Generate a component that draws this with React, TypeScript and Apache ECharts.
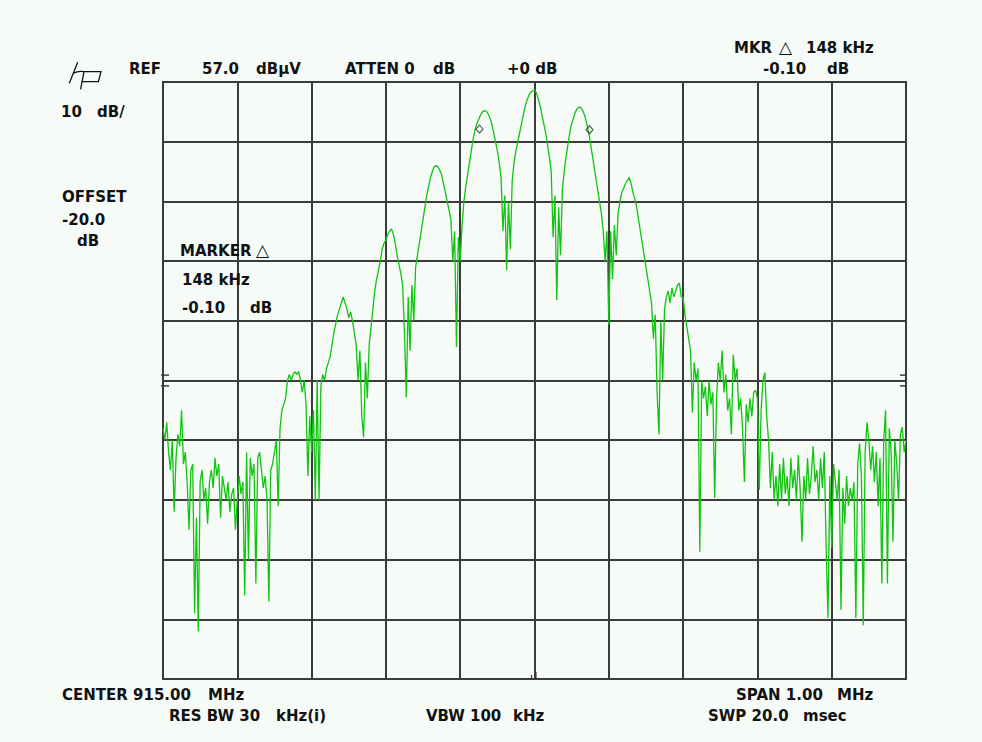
import React, { useEffect, useRef } from "react";
import * as echarts from "echarts";

// Sweep: span 1.00 MHz around 915.00 MHz, 401 trace points, offset in kHz
const FREQ_START = -500;
const FREQ_END = 500;
const FREQ_STEP = 2.5;

// Trace level in dB relative to reference level (REF 57.0 dBµV, 10 dB/div)
const traceDiv0 = [-58, -60, -57, -62, -65, -60, -72, -63, -59, -61, -55, -64, -62, -67, -75, -65, -64, -89, -73, -92,
  -67, -65, -70, -68, -74, -67, -65, -68, -63, -66, -64, -73, -66, -68, -70, -67, -72, -69, -68, -75];
const traceDiv1 = [-70, -66, -69, -67, -86, -62, -80, -63, -66, -64, -84, -63, -62, -65, -68, -66, -70, -87, -65, -64,
  -62, -60, -71, -58, -55, -54, -53, -50, -49, -50, -49, -48.5, -49, -48.5, -50, -52, -50, -54, -66, -56];
const traceDiv2 = [-62, -55, -70, -50, -70, -51, -49, -50, -48, -47, -46, -44, -42, -40.5, -39, -38, -37, -36, -37, -38,
  -39.5, -38.5, -40, -42, -44, -50, -45, -56, -59.5, -47, -53, -44, -41, -38, -35, -33, -31.5, -30, -28, -27];
const traceDiv3 = [-26.5, -25.5, -25, -24.6, -25.5, -27, -29, -30.5, -32, -34, -42, -52.8, -36, -45, -34, -40, -31, -29, -27, -25,
  -23, -21, -19, -17.5, -16, -15, -14.2, -14, -14.2, -14.8, -15.5, -17, -18.5, -20, -21.5, -23, -30, -25, -44.4, -26];
const traceDiv4 = [-30, -24, -20, -17.5, -15.5, -13.5, -11.5, -9.5, -8, -7, -6.2, -5.5, -5, -4.8, -4.9, -5.3, -6, -7, -8.5, -10,
  -11.5, -13.5, -16, -25, -19, -31.5, -20, -28, -16.5, -13.5, -11.5, -10, -8.5, -7, -5.5, -4, -3, -2.2, -1.7, -1.5];
const traceDiv5 = [-1.3, -1.8, -2.8, -4, -5.5, -7, -8.5, -10.5, -12.5, -15, -26, -19, -36.5, -21, -29, -18, -15, -12.5, -10.5, -8.5,
  -7, -6, -5, -4.5, -4.2, -4.3, -4.8, -5.6, -6.8, -8.2, -10, -12, -14, -16, -18, -20, -22, -25, -30, -25];
const traceDiv6 = [-40.7, -25, -33, -24, -29, -22, -20, -18.5, -17.8, -17, -16.5, -16, -17, -18.5, -19.5, -21, -23, -25, -27, -29,
  -31, -33, -35, -37, -43, -39, -52, -59, -40, -50, -38, -36, -35, -37, -34.5, -36, -35, -34, -33.7, -36];
const traceDiv7 = [-36, -39, -41, -43, -45, -55.4, -47, -50, -48, -78.7, -50, -53, -51, -56, -50, -54, -52, -69.7, -53, -47,
  -50, -45, -52, -49, -55, -53, -59, -45.7, -50, -48, -55, -53, -58, -67, -54, -57, -53, -56, -52, -51.6];
const traceDiv8 = [-53, -68.3, -55, -50, -48.7, -56, -60, -68, -62, -70, -66, -71, -64, -70, -63, -69, -66, -71, -63, -68,
  -65, -70, -62.5, -68, -77, -66, -70, -63, -69, -66, -61, -67, -65, -70, -63, -68, -62, -78, -89.8, -66];
const traceDiv9 = [-78, -64, -67, -70, -65, -88.4, -68, -74, -66, -71, -68, -70, -67, -89.8, -64, -60.5, -66, -91, -62, -57,
  -60, -65, -61, -67, -62, -71, -63, -84, -60, -55, -84, -58, -62, -77, -60, -64, -70, -59, -57.8, -62, -60];

const trace = [
  ...traceDiv0, ...traceDiv1, ...traceDiv2, ...traceDiv3, ...traceDiv4,
  ...traceDiv5, ...traceDiv6, ...traceDiv7, ...traceDiv8, ...traceDiv9,
];

// Delta marker pair (148 kHz apart, -0.10 dB)
const markerFreqs = [-74, 74];
const markerLevels = [-7.9, -8.0];

// Display-line ticks on the side edges and centre ticks on the bottom edge
const sideTickLevels = [-49.1, -50.9];
const centreTickFreqs = [-4, 2];

const BG = "#f6fbf8";
const INK = "#121212";
const GRIDC = "#3b3b3b";
const TRACE = "#10c410";

const FONT = "bold 15px 'DejaVu Sans'";
// [text, x, y]
const labels: [string, number, number][] = [
  ["REF", 129, 69],
  ["57.0", 202, 69],
  ["dBµV", 256, 69],
  ["ATTEN 0", 345, 69],
  ["dB", 433, 69],
  ["+0 dB", 507, 69],
  ["MKR", 734, 48],
  ["148 kHz", 806, 48],
  ["-0.10", 763, 69],
  ["dB", 827, 69],
  ["10", 61, 112],
  ["dB/", 97, 112],
  ["OFFSET", 62, 197],
  ["-20.0", 62, 220],
  ["dB", 77, 241],
  ["MARKER", 180, 251],
  ["148 kHz", 182, 280],
  ["-0.10", 182, 308],
  ["dB", 250, 308],
  ["CENTER 915.00", 62, 695],
  ["MHz", 208, 695],
  ["RES BW 30", 169, 716],
  ["kHz(i)", 276, 716],
  ["VBW 100", 426, 716],
  ["kHz", 513, 716],
  ["SPAN 1.00", 736, 695],
  ["MHz", 837, 695],
  ["SWP 20.0", 708, 716],
  ["msec", 803, 716],
];
const triangles: [number, number][] = [
  [779, 47],
  [256, 250],
];

const LOGO_D =
  "M77.7 62.3 L69.3 83.3 M73.6 73.2 Q78 70.6 84 71.7 L80.6 89.3 M84 71.7 L101 71.7 L98.4 81.7 L82 81.7";

let logoRegistered = false;

export default function App() {
  const ref = useRef<HTMLDivElement>(null);

  useEffect(() => {
    document.body.style.margin = "0";
    document.body.style.background = BG;
    if (!logoRegistered) {
      echarts.graphic.registerShape("logo", echarts.graphic.extendPath(LOGO_D, {}) as any);
      logoRegistered = true;
    }
    const chart = echarts.init(ref.current!, undefined, { renderer: "svg" });
    const lineData = trace.map((v, i) => [FREQ_START + i * FREQ_STEP, v]);
    const markerData = markerFreqs.map((f, i) => [f, markerLevels[i]]);

    chart.setOption({
      animation: false,
      backgroundColor: BG,
      grid: {
        left: 163,
        top: 82,
        right: 76,
        bottom: 63,
        show: true,
        borderColor: GRIDC,
        borderWidth: 2,
        backgroundColor: "transparent",
      },
      xAxis: {
        type: "value",
        min: FREQ_START,
        max: FREQ_END,
        interval: 100,
        axisLabel: { show: false },
        axisTick: { show: false },
        axisLine: { show: false },
        splitLine: { show: true, lineStyle: { color: GRIDC, width: 2 } },
      },
      yAxis: {
        type: "value",
        min: -100,
        max: 0,
        interval: 10,
        axisLabel: { show: false },
        axisTick: { show: false },
        axisLine: { show: false },
        splitLine: { show: true, lineStyle: { color: GRIDC, width: 2 } },
      },
      series: [
        {
          type: "line",
          data: lineData,
          symbol: "none",
          lineStyle: { color: TRACE, width: 1.3 },
          z: 3,
        },
        {
          type: "scatter",
          data: markerData,
          symbol: "diamond",
          symbolSize: [7, 8],
          itemStyle: { color: "transparent", borderColor: "#333", borderWidth: 1.2 },
          z: 4,
        },
      ],
    });

    const graphics: any[] = [];
    const p0 = chart.convertToPixel({ gridIndex: 0 }, [FREQ_START, 0]) as number[];
    const p1 = chart.convertToPixel({ gridIndex: 0 }, [FREQ_END, -100]) as number[];
    sideTickLevels.forEach((lv) => {
      const py = (chart.convertToPixel({ gridIndex: 0 }, [FREQ_START, lv]) as number[])[1];
      graphics.push({
        type: "line",
        shape: { x1: p0[0] - 2, y1: py, x2: p0[0] + 6, y2: py },
        style: { stroke: GRIDC, lineWidth: 1.5 },
        z: 10,
      });
      graphics.push({
        type: "line",
        shape: { x1: p1[0] - 6, y1: py, x2: p1[0] + 1, y2: py },
        style: { stroke: GRIDC, lineWidth: 1.5 },
        z: 10,
      });
    });
    centreTickFreqs.forEach((f, i) => {
      const px = (chart.convertToPixel({ gridIndex: 0 }, [f, -100]) as number[])[0];
      graphics.push({
        type: "line",
        shape: { x1: px, y1: p1[1] - (i === 0 ? 4 : 7), x2: px, y2: p1[1] },
        style: { stroke: GRIDC, lineWidth: 1.2 },
        z: 10,
      });
    });
    labels.forEach(([t, x, y]) => {
      graphics.push({
        type: "text",
        x,
        y,
        style: { text: t, font: FONT, fill: INK, verticalAlign: "middle", align: "left" },
        z: 10,
      });
    });
    triangles.forEach(([x, y]) => {
      graphics.push({
        type: "text",
        x,
        y,
        style: { text: "△", font: "17px 'DejaVu Sans'", fill: INK, verticalAlign: "middle", align: "left" },
        z: 10,
      });
    });
    graphics.push({
      type: "logo",
      x: 0,
      y: 0,
      scaleX: 1,
      scaleY: 1,
      style: { fill: "none", stroke: INK, lineWidth: 1.3 },
      z: 10,
    });
    chart.setOption({ graphic: graphics });

    return () => chart.dispose();
  }, []);

  return <div ref={ref} style={{ width: 982, height: 742 }} />;
}
